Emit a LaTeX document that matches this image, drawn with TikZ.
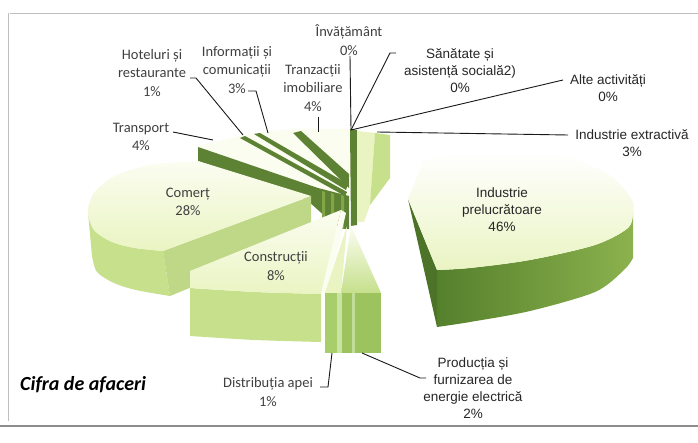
\documentclass[tikz,border=0pt]{standalone}
\usepackage{fontspec}
\setmainfont{Liberation Sans}
\newfontfamily\calfont{Carlito}
\definecolor{topc}{HTML}{EAF4C2}
\definecolor{topw}{HTML}{FBFDF1}
\definecolor{sidec}{HTML}{C6E08C}
\definecolor{cutc}{HTML}{BFD888}
\definecolor{darkg}{HTML}{55802C}
\definecolor{darkl}{HTML}{8CB24E}
\definecolor{darkt}{HTML}{5E8234}
\definecolor{midg}{HTML}{A8CE6C}
\definecolor{midh}{HTML}{9CC35E}
\definecolor{stripe}{HTML}{80A646}
\begin{document}
\begin{tikzpicture}[x=1pt,y=-1pt,
  lbl/.style={font=\fontsize{13.5}{17}\selectfont, align=center, inner sep=0pt, text=black!85},
  clbl/.style={font=\calfont\fontsize{14.5}{18.5}\selectfont, align=center, inner sep=0pt, text=black!75},
  leader/.style={draw=black!90, line width=0.9pt},
  framel/.style={draw=black!25, line width=0.8pt}]
\useasboundingbox (0,0) rectangle (698,443);
\fill[white] (0,0) rectangle (698,443);
% frame
\draw[framel] (10,13) -- (698,13);
\draw[framel] (8,13) -- (8,421);
\draw[draw=black!45, line width=1.2pt] (0,426) -- (698,426);

% cluster of small slices (back left)
\fill[topw] (198,146) -- (240,136) -- (270,131) -- (298,129) -- (349,129) -- (349,200) -- (320,195) -- cycle;
\fill[darkt] (198,147) -- (318,188) -- (349,196) -- (349,229) -- (339,229) -- (307,200) -- (198,161) -- cycle;
\fill[stripe] (322,191) -- (325,192) -- (325,224) -- (322,222) -- cycle;
\fill[stripe] (331,193) -- (334,194) -- (334,228) -- (331,227) -- cycle;
\fill[stripe] (341,195) -- (344,196) -- (344,229) -- (341,229) -- cycle;
\fill[darkt] (240,138) -- (245,136) -- (347,192) -- (345,196) -- cycle;
\fill[darkt] (254,134) -- (260,133) -- (348,184) -- (346,190) -- cycle;
\fill[darkt] (293,133) -- (301,131) -- (349,174) -- (349,188) -- cycle;

% Comert
\fill[sidec] plot[smooth] coordinates {(88,212) (94,230) (112,242) (135,248) (163,251)} -- (170,296) -- plot[smooth] coordinates {(170,296) (136,290) (114,283) (97,272) (92,256)} -- cycle;
\fill[cutc] (163,251) -- (311,196) -- (311,238) -- (170,296) -- cycle;
\shade[top color=topw, bottom color=topc] (311,196) -- (198,161) -- plot[smooth] coordinates {(198,161) (150,165) (115,176) (94,193) (88,212) (94,230) (112,242) (135,248) (163,251)} -- cycle;

% Constructii
\fill[sidec] (190,288) -- plot[smooth] coordinates {(190,288) (255,292) (321,294)} -- (321,342) -- plot[smooth] coordinates {(321,342) (255,340) (190,336)} -- cycle;
\shade[top color=topw, bottom color=topc] (190,271) -- (341,210) -- (321,294) -- plot[smooth] coordinates {(321,294) (255,292) (190,288)} -- cycle;
\fill[topw] (341,210) -- (346,213) -- (327,294) -- (321,294) -- cycle;

% Industrie extractiva
\fill[darkt] (350,129) -- (357,130) -- (357,225) -- (351,226) -- cycle;
\fill[topc] (357,131) -- (375,133) -- (370,205) -- (364,222) -- (357,222) -- cycle;
\fill[sidec] (375,133) -- (390,135) -- (390,178) -- (370,205) -- cycle;

% Distributia apei, Productia energie
\fill[topc] (347,226) -- (341,293) -- (325,293) -- cycle;
\shade[top color=topw, bottom color=sidec] (351,226) -- (381,293) -- (341,293) -- cycle;
\fill[midg] (325,293) rectangle (341,353);
\fill[midh] (341,293) rectangle (381,353);
\fill[midg!60!white] (337,293) rectangle (342,353);
\fill[midg!70!white] (352,293) rectangle (355,353);

% Industrie prelucratoare
\shade[left color=darkg, right color=darkl] plot[smooth] coordinates {(437,270) (470,268) (530,260) (595,245) (628,228) (633,212)} -- (633,258) -- plot[smooth] coordinates {(633,258) (624,270) (595,292) (530,311) (470,322) (437,327)} -- cycle;
\fill[darkg!90!black] (408,199) -- (437,270) -- (437,327) -- cycle;
\shade[top color=white, bottom color=topc] (408,199) -- (424,160) -- plot[smooth] coordinates {(424,160) (470,153) (520,152) (573,159) (612,177) (632,200) (633,212) (628,228) (595,245) (530,260) (470,268) (437,270)} -- cycle;

% labels
\node[clbl] (hot) at (152,73) {Hoteluri și\\restaurante\\1\%};
\node[clbl] (inf) at (237,70) {Informații și\\comunicații\\3\%};
\node[clbl] (tranz) at (313,88) {Tranzacții\\imobiliare\\4\%};
\node[clbl] (transp) at (141,137) {Transport\\4\%};
\node[clbl] (inv) at (349,40) {Învățământ\\0\%};
\node[lbl] (san) at (460,71) {Sănătate și\\asistență socială2)\\0\%};
\node[lbl] (alte) at (608,88) {Alte activități\\0\%};
\node[lbl] (extr) at (632,143) {Industrie extractivă\\3\%};
\node[clbl] (com) at (188,202) {Comerț\\28\%};
\node[clbl] (cons) at (276,266) {Construcții\\8\%};
\node[lbl] (prel) at (502,210) {Industrie\\prelucrătoare\\46\%};
\node[clbl] (dist) at (268,392) {Distribuția apei\\1\%};
\node[lbl] (prod) at (473,388) {Producția și\\furnizarea de\\energie electrică\\2\%};
\node[anchor=west, inner sep=0pt, font=\calfont\bfseries\itshape\fontsize{20}{24}\selectfont] (cifra) at (20,385) {Cifra de afaceri};

% leader end points
\coordinate (hub) at (351,130);
\coordinate (trS) at (173,132);
\coordinate (trE) at (213,140);
\coordinate (hoS) at (190,78);
\coordinate (hoK) at (196,78);
\coordinate (hoE) at (243,135);
\coordinate (inS) at (248,91);
\coordinate (inK) at (256,91);
\coordinate (inE) at (268,133);
\coordinate (tzS) at (318,117);
\coordinate (tzE) at (318,132);
\coordinate (ivS) at (350,56);
\coordinate (saS) at (396,53);
\coordinate (saK) at (390,53);
\coordinate (alS) at (563,80);
\coordinate (exS) at (568,135);
\coordinate (exE) at (377,132);
\coordinate (diS) at (320,387);
\coordinate (diK) at (328,387);
\coordinate (diE) at (332,353);
\coordinate (prS) at (362,353);
\coordinate (prK) at (420,378);
\coordinate (prE) at (426,378);

\draw[leader] (trS) -- (trE);
\draw[leader] (hoS) -- (hoK) -- (hoE);
\draw[leader] (inS) -- (inK) -- (inE);
\draw[leader] (tzS) -- (tzE);
\draw[leader] (ivS) -- (hub);
\draw[leader] (saS) -- (saK) -- (hub);
\draw[leader] (alS) -- (hub);
\draw[leader] (exS) -- (exE);
\draw[leader] (diS) -- (diK) -- (diE);
\draw[leader] (prS) -- (prK) -- (prE);
\end{tikzpicture}
\end{document}
